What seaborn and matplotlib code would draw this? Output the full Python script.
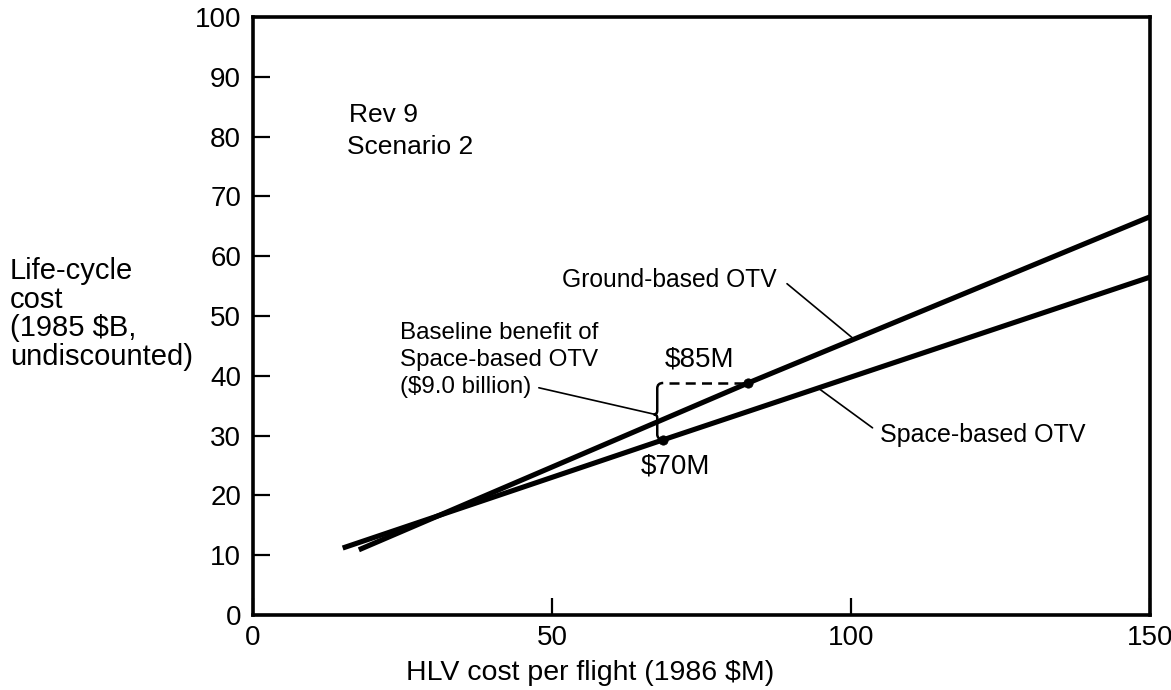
import numpy as np
import pandas as pd
import matplotlib
matplotlib.use("Agg")
import matplotlib.pyplot as plt
from matplotlib.path import Path
from matplotlib.patches import PathPatch
import seaborn as sns

# ---- data ----
ground_hlv = [17.7, 82.8, 150.0]
ground_cost = [10.9, 38.8, 66.6]
space_hlv = [15.0, 68.6, 150.0]
space_cost = [11.2, 29.3, 56.5]
point_labels = ["$85M", "$70M"]
x_ticks = [0, 50, 100, 150]
y_ticks = [0, 10, 20, 30, 40, 50, 60, 70, 80, 90, 100]

sns.set_theme(style="white")
plt.rcParams["font.family"] = ["Liberation Sans", "DejaVu Sans"]
plt.rcParams["text.color"] = "black"
plt.rcParams["axes.labelcolor"] = "black"
plt.rcParams["xtick.color"] = "black"
plt.rcParams["ytick.color"] = "black"

fig = plt.figure(figsize=(11.71, 6.90), dpi=100)
ax = fig.add_axes([253 / 1171, 1 - 615 / 690, 897 / 1171, 598 / 690])

sns.lineplot(x=ground_hlv, y=ground_cost, ax=ax, color="black", lw=3.7,
             solid_capstyle="butt")
sns.lineplot(x=space_hlv, y=space_cost, ax=ax, color="black", lw=3.7,
             solid_capstyle="butt")

# key points
p85 = (ground_hlv[1], ground_cost[1])
p70 = (space_hlv[1], space_cost[1])
sns.scatterplot(x=[p85[0], p70[0]], y=[p85[1], p70[1]], ax=ax, color="black",
                s=45, edgecolor="black", zorder=5)

ax.set_xlim(0, 150)
ax.set_ylim(0, 100)
ax.set_xticks(x_ticks)
ax.set_yticks(y_ticks)
ax.set_xticklabels([str(v) for v in x_ticks], fontsize=20)
ax.set_yticklabels([str(v) for v in y_ticks], fontsize=20)
ax.tick_params(axis="both", direction="in", length=12, width=1.6,
               colors="black", left=True, bottom=True)
ax.tick_params(axis="y", pad=8.5)
ax.tick_params(axis="x", pad=7.5)
for s in ax.spines.values():
    s.set_visible(True)
    s.set_color("black")
    s.set_linewidth(2.6)

ax.set_xlabel("HLV cost per flight (1986 $M)", fontsize=20.5, va="center")
ax.xaxis.set_label_coords((590 - 253) / 897, (615 - 673) / 598)

fig.text(10 / 1171, 1 - 314 / 690,
         "Life-cycle\ncost\n(1985 $B,\nundiscounted)",
         ha="left", va="center", fontsize=21, linespacing=1.03)

# annotations
ax.text(16.1, 83.6, "Rev 9", fontsize=19, ha="left", va="center")
ax.text(15.7, 78.3, "Scenario 2", fontsize=19, ha="left", va="center")

ax.text(51.7, 56.0, "Ground-based OTV", fontsize=17.7, ha="left", va="center")
g_end_x = 100.5
g_end_y = np.interp(g_end_x, ground_hlv, ground_cost)
ax.plot([89.3, g_end_x], [55.4, g_end_y], color="black", lw=1.2)

ax.text(104.8, 30.1, "Space-based OTV", fontsize=18, ha="left", va="center")
s_end_x = 94.5
s_end_y = np.interp(s_end_x, space_hlv, space_cost)
ax.plot([103.6, s_end_x], [31.3, s_end_y], color="black", lw=1.2)

ax.text(24.6, 42.6, "Baseline benefit of\nSpace-based OTV\n($9.0 billion)",
        fontsize=17.4, ha="left", va="center", linespacing=1.3)

ax.text(p85[0] - 8.1, p85[1] + 3.9, point_labels[0], fontsize=20,
        ha="center", va="center")
ax.text(p70[0] + 2.0, p70[1] - 4.4, point_labels[1], fontsize=20,
        ha="center", va="center")

# dashed line from the brace to the $85M point
ax.plot([p70[0] + 0.9, p85[0]], [p85[1], p85[1]], color="black", lw=1.8,
        ls=(0, (4, 2.5)))

# brace
bx = p70[0] - 1.0
top, bot = p85[1], p70[1]
mid = (top + bot) / 2 - 0.5
verts = [
    (bx + 1.0, top), (bx, top), (bx, top - 0.9),
    (bx, mid + 0.6), (bx, mid), (bx - 0.6, mid),
    (bx, mid), (bx, mid - 0.6),
    (bx, bot + 0.9), (bx, bot), (bx + 1.2, bot),
]
codes = [Path.MOVETO, Path.CURVE3, Path.CURVE3,
         Path.LINETO, Path.CURVE3, Path.CURVE3,
         Path.CURVE3, Path.CURVE3,
         Path.LINETO, Path.CURVE3, Path.CURVE3]
ax.add_patch(PathPatch(Path(verts, codes), fill=False, lw=1.8,
                       edgecolor="black"))

# leader for the benefit label
ax.plot([47.8, bx - 0.4], [38.0, mid], color="black", lw=1.2)

fig.savefig("out.png", dpi=100)
